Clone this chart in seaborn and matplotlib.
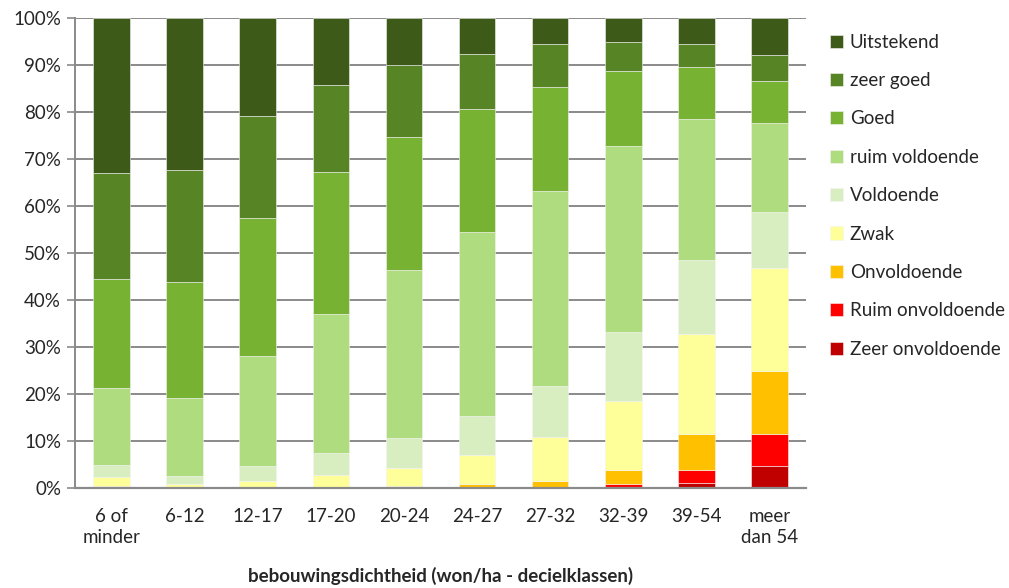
import pandas as pd
import matplotlib.pyplot as plt
import seaborn as sns

sns.set_style("white")
plt.rcParams["font.family"] = ["Lato", "DejaVu Sans"]

# Density classes
klassen = ["6 of\nminder", "6-12", "12-17", "17-20", "20-24",
           "24-27", "27-32", "32-39", "39-54", "meer\ndan 54"]

# Share of each score per class (%), stacked from top to bottom
uitstekend = [33.0, 32.3, 20.9, 14.3, 10.0, 7.7, 5.5, 5.1, 5.5, 7.9]
zeer_goed = [22.5, 23.9, 21.7, 18.5, 15.2, 11.7, 9.2, 6.1, 4.9, 5.4]
goed = [23.1, 24.7, 29.3, 30.2, 28.4, 26.1, 22.1, 15.9, 11.0, 9.0]
ruim_voldoende = [16.5, 16.55, 23.4, 29.6, 35.8, 39.2, 41.5, 39.7, 30.1, 19.0]
voldoende = [2.6, 1.7, 3.2, 4.6, 6.3, 8.3, 10.8, 14.6, 15.8, 11.9]
zwak = [1.9, 0.75, 1.5, 2.6, 3.9, 6.15, 9.4, 14.8, 21.1, 21.9]
onvoldoende = [0.4, 0.1, 0.0, 0.2, 0.4, 0.85, 1.3, 2.95, 7.8, 13.5]
ruim_onvoldoende = [0.0, 0.0, 0.0, 0.0, 0.0, 0.0, 0.2, 0.65, 2.8, 6.7]
zeer_onvoldoende = [0.0, 0.0, 0.0, 0.0, 0.0, 0.0, 0.0, 0.2, 1.0, 4.7]

scores = ["Uitstekend", "zeer goed", "Goed", "ruim voldoende", "Voldoende",
          "Zwak", "Onvoldoende", "Ruim onvoldoende", "Zeer onvoldoende"]
series = [uitstekend, zeer_goed, goed, ruim_voldoende, voldoende,
          zwak, onvoldoende, ruim_onvoldoende, zeer_onvoldoende]
kleuren = ["#3D5A18", "#578526", "#78B232", "#B0DC80", "#D8EEC0",
           "#FFFF99", "#FFC000", "#FF0000", "#C00000"]

rows = []
for score, vals in zip(scores, series):
    for i, v in enumerate(vals):
        rows.append({"klasse": i, "score": score, "pct": v / 100})
df = pd.DataFrame(rows)

fig = plt.figure(figsize=(10.09, 5.88), dpi=100)
ax = fig.add_axes([0.0743, 0.17, 0.7245, 0.799])

sns.histplot(data=df, x="klasse", weights="pct", hue="score", hue_order=scores,
             multiple="stack", discrete=True, shrink=0.5, alpha=1,
             palette=dict(zip(scores, kleuren)), linewidth=0.4,
             edgecolor="#f4f4f4", ax=ax)

ax.set_xlim(-0.5, len(klassen) - 0.5)
ax.set_ylim(0, 1)
ax.set_yticks([i / 10 for i in range(11)])
ax.set_yticklabels([f"{i * 10}%" for i in range(11)], fontsize=13.5)
ax.set_xticks(range(len(klassen)))
ax.set_xticklabels(klassen, fontsize=13.5, linespacing=1.3)
ax.set_ylabel("")
ax.set_xlabel("bebouwingsdichtheid (won/ha - decielklassen)", fontsize=13.5,
              fontweight="bold", labelpad=15)

ax.grid(axis="y", color="#8a8a8a", linewidth=1.4)
ax.set_axisbelow(True)
for s in ["top", "right"]:
    ax.spines[s].set_visible(False)
ax.spines["left"].set_color("#8a8a8a")
ax.spines["left"].set_linewidth(1.4)
ax.spines["bottom"].set_color("#8a8a8a")
ax.spines["bottom"].set_linewidth(1.6)
ax.tick_params(axis="y", left=True, length=6, width=1.2, color="#8a8a8a", pad=4)
ax.tick_params(axis="x", bottom=False, pad=11)

sns.move_legend(ax, "upper left", bbox_to_anchor=(1.01, 1.003), frameon=False,
                title=None, fontsize=13.5, labelspacing=1.14,
                handlelength=0.7, handleheight=0.7, handletextpad=0.35)

plt.savefig("out.png", dpi=100)
